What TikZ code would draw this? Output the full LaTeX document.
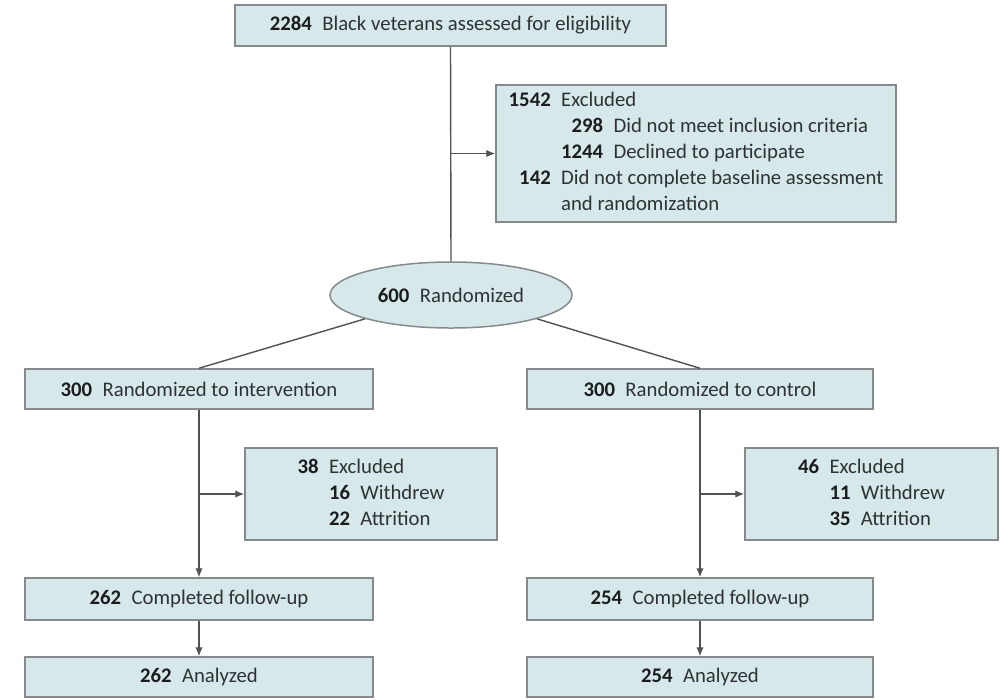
\documentclass[tikz,border=0pt]{standalone}
\usepackage{fontspec}
\setmainfont{Carlito}
\usepackage{xcolor}
\usepackage{tikz}
\usetikzlibrary{shapes.geometric,arrows.meta}

\definecolor{boxfill}{HTML}{D6E8EA}
\definecolor{boxline}{HTML}{858A8C}
\definecolor{linkcol}{HTML}{4E5254}
\definecolor{txtcol}{HTML}{2E3234}
\definecolor{numcol}{HTML}{1A1C1E}

\newcommand{\nb}[1]{\textbf{\color{numcol}#1}}
\newlength{\subw}
\AtBeginDocument{\settowidth{\subw}{\fontsize{11.8}{14.8}\selectfont\textbf{1244}}}
\newcommand{\subrow}[2]{\makebox[\subw][r]{\nb{#1}}\enspace #2}

\begin{document}
\begin{tikzpicture}[x=0.2mm,y=-0.2mm,>={Latex[length=1.8mm,width=1.5mm]},
        box/.style={draw=boxline,fill=boxfill,line width=0.85pt,text=txtcol,inner sep=0pt,
                font=\fontsize{11.8}{14.8}\selectfont},
        link/.style={draw=linkcol,line width=0.8pt}]
        \useasboundingbox (0,0) rectangle (1000,699);
        % top
        \node [box, minimum width=86.2mm, minimum height=8.2mm] (elig) at (450.5,25.5)
                {\nb{2284}\enspace Black veterans assessed for eligibility};
        \node [box, minimum width=80mm, minimum height=27.4mm] (excl) at (696,153.5)
                {\begin{tabular}{@{}r@{\enspace}l@{}}
                \nb{1542} & Excluded\\
                & \subrow{298}{Did not meet inclusion criteria}\\
                & \subrow{1244}{Declined to participate}\\
                \nb{142} & Did not complete baseline assessment\\
                & and randomization
                \end{tabular}};
        \node [box, ellipse, minimum width=48.4mm, minimum height=13.2mm] (rand) at (451,295)
                {\nb{600}\enspace Randomized};
        % two arms
        \node [box, minimum width=69.6mm, minimum height=8mm] (intv) at (199,389)
                {\nb{300}\enspace Randomized to intervention};
        \node [box, minimum width=69.2mm, minimum height=8mm] (ctrl) at (700,389)
                {\nb{300}\enspace Randomized to control};
        \node [box, minimum width=50.4mm, minimum height=18.4mm] (intvex) at (371,494)
                {\begin{tabular}{@{}r@{\enspace}l@{}}
                \nb{38} & Excluded\\
                & \nb{16}\enspace Withdrew\\
                & \nb{22}\enspace Attrition
                \end{tabular}};
        \node [box, minimum width=50.6mm, minimum height=18.4mm] (ctrlex) at (871.5,494)
                {\begin{tabular}{@{}r@{\enspace}l@{}}
                \nb{46} & Excluded\\
                & \nb{11}\enspace Withdrew\\
                & \nb{35}\enspace Attrition
                \end{tabular}};
        \node [box, minimum width=69.6mm, minimum height=8.4mm] (intvfu) at (199,599)
                {\nb{262}\enspace Completed follow-up};
        \node [box, minimum width=69.2mm, minimum height=8.4mm] (ctrlfu) at (700,599)
                {\nb{254}\enspace Completed follow-up};
        \node [box, minimum width=69.6mm, minimum height=8mm] (intvan) at (199,677)
                {\nb{262}\enspace Analyzed};
        \node [box, minimum width=69.2mm, minimum height=8mm] (ctrlan) at (700,677)
                {\nb{254}\enspace Analyzed};
        % connectors
        \coordinate (t1) at (elig.south |- excl.west);
        \coordinate (t2) at (intv.south |- intvex.west);
        \coordinate (t3) at (ctrl.south |- ctrlex.west);
        \draw [link] (elig.south) -- (rand.north);
        \draw [link, ->] (t1) -- (excl.west);
        \draw [link] (rand.south west) -- (intv.north);
        \draw [link] (rand.south east) -- (ctrl.north);
        \draw [link, ->] (intv.south) -- (intvfu.north);
        \draw [link, ->] (t2) -- (intvex.west);
        \draw [link, ->] (ctrl.south) -- (ctrlfu.north);
        \draw [link, ->] (t3) -- (ctrlex.west);
        \draw [link, ->] (intvfu.south) -- (intvan.north);
        \draw [link, ->] (ctrlfu.south) -- (ctrlan.north);
\end{tikzpicture}
\end{document}
